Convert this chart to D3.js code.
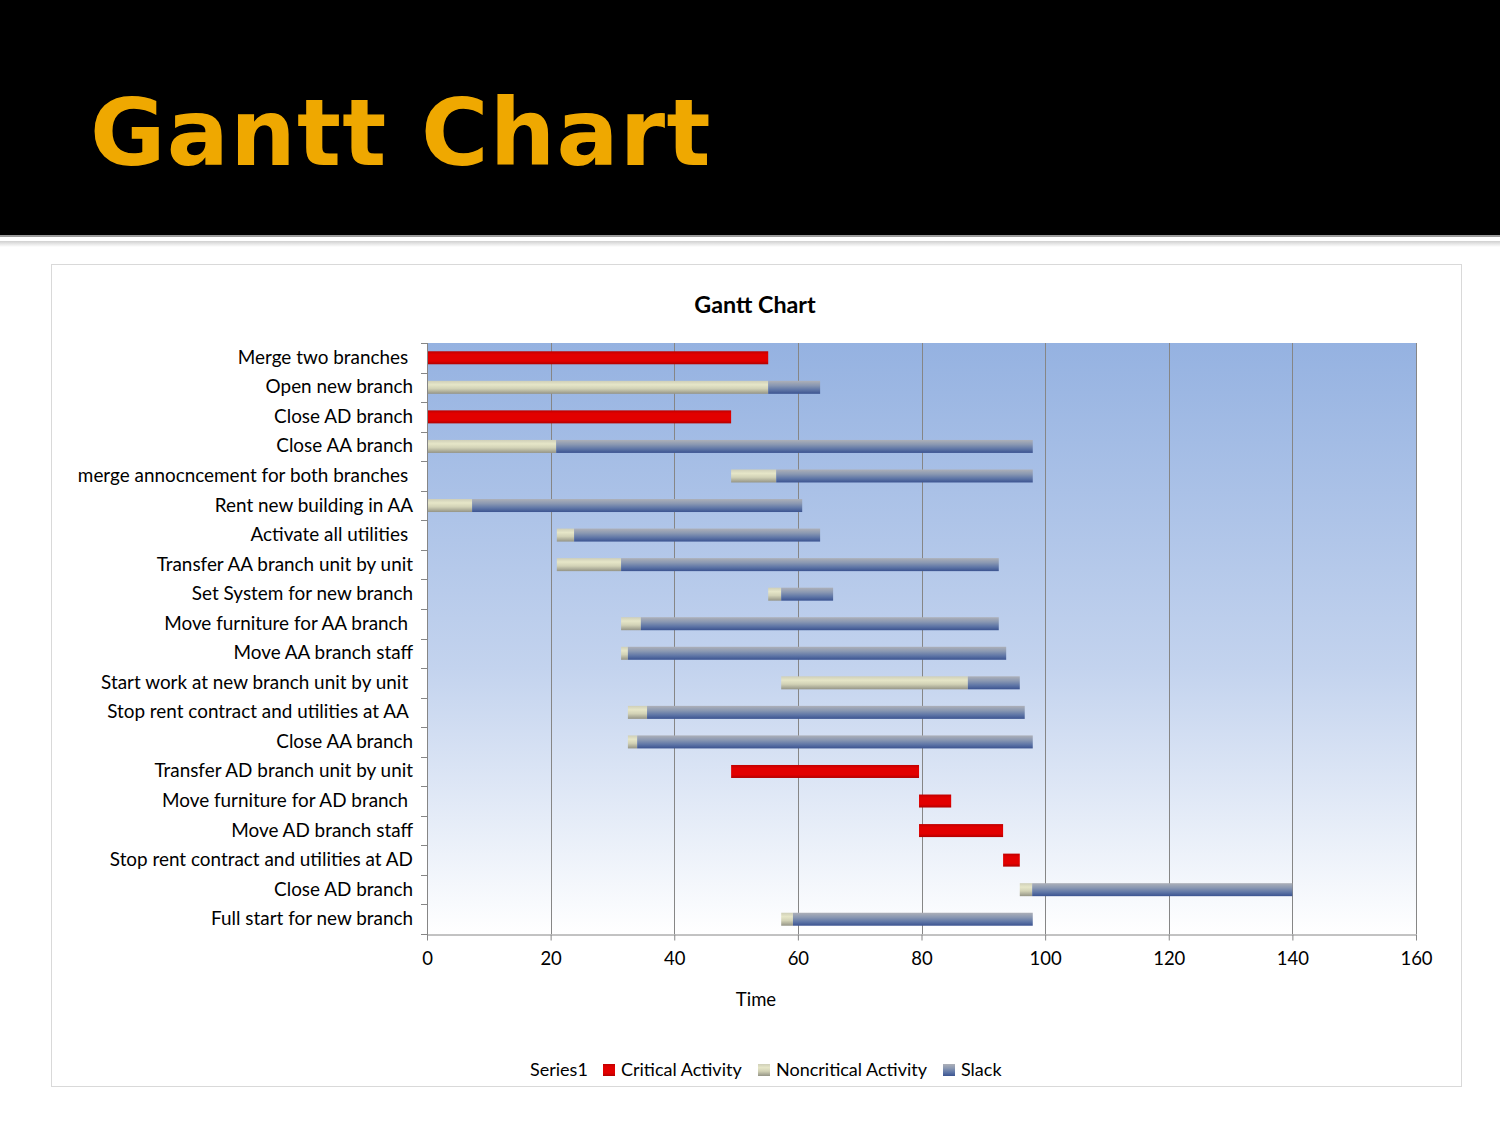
<!DOCTYPE html>
<html>
<head>
    <meta charset="utf-8">
    <title>Gantt Chart</title>
    <script src="https://cdn.jsdelivr.net/npm/d3@7"></script>
    <style type="text/css">
        body { margin: 0; background: #fff; }
        svg text { font-family: Lato, "Open Sans", sans-serif; fill: #000; }
    </style>
</head>
<body>
<div id="chart"></div>
<script type="text/javascript">
    // categories, top to bottom (trailing spaces kept as in the source sheet)
    var tasks = [
        "Merge two branches ", "Open new branch", "Close AD branch", "Close AA branch",
        "merge annocncement for both branches ", "Rent new building in AA", "Activate all utilities ",
        "Transfer AA branch unit by unit", "Set System for new branch", "Move furniture for AA branch ",
        "Move AA branch staff", "Start work at new branch unit by unit ", "Stop rent contract and utilities at AA ",
        "Close AA branch", "Transfer AD branch unit by unit", "Move furniture for AD branch ",
        "Move AD branch staff", "Stop rent contract and utilities at AD", "Close AD branch",
        "Full start for new branch"
    ];
    // Series1 = start offset (invisible)
    var series1     = [0, 0, 0, 0, 49.2, 0, 21, 21, 55.2, 31.4, 31.4, 57.3, 32.5, 32.5, 49.2, 79.6, 79.6, 93.2, 95.9, 57.3];
    var critical    = [55.2, 0, 49.2, 0, 0, 0, 0, 0, 0, 0, 0, 0, 0, 0, 30.4, 5.2, 13.6, 2.7, 0, 0];
    var noncritical = [0, 55.2, 0, 20.9, 7.3, 7.3, 2.8, 10.4, 2.1, 3.2, 1.1, 30.2, 3.1, 1.5, 0, 0, 0, 0, 2, 1.9];
    var slack       = [0, 8.4, 0, 77.1, 41.5, 53.4, 39.8, 61.1, 8.4, 57.9, 61.2, 8.4, 61.1, 64, 0, 0, 0, 0, 42.1, 38.8];
    var xTicks = [0, 20, 40, 60, 80, 100, 120, 140, 160];
    var seriesNames = ["Series1", "Critical Activity", "Noncritical Activity", "Slack"];

    var W = 1500, H = 1125;
    var svg = d3.select('#chart').append('svg')
        .attr('width', W).attr('height', H);

    var defs = svg.append('defs');
    function vGrad(id, stops) {
        var g = defs.append('linearGradient').attr('id', id)
            .attr('x1', 0).attr('y1', 0).attr('x2', 0).attr('y2', 1);
        stops.forEach(function (s) {
            g.append('stop').attr('offset', s[0]).attr('stop-color', s[1]);
        });
    }
    vGrad('gPlot', [[0, '#95b2e1'], [0.55, '#c3d3ee'], [1, '#ffffff']]);
    vGrad('gCrit', [[0, '#c00000'], [0.25, '#e20000'], [0.75, '#e20000'], [1, '#b00000']]);
    vGrad('gNon', [[0, '#cfcfb8'], [0.3, '#e6e6c8'], [0.6, '#d2d2b6'], [1, '#949486']]);
    vGrad('gSlack', [[0, '#adb0b8'], [0.35, '#8a98b2'], [0.7, '#5e75a6'], [1, '#3b5390']]);
    vGrad('gShadow', [[0, '#d0d0d0'], [1, '#ffffff']]);

    // slide header
    svg.append('rect').attr('x', 0).attr('y', 0).attr('width', W).attr('height', 235).attr('fill', '#000');
    svg.append('rect').attr('x', 0).attr('y', 235).attr('width', W).attr('height', 2).attr('fill', '#9a9a9a');
    svg.append('rect').attr('x', 0).attr('y', 241).attr('width', W).attr('height', 6).attr('fill', 'url(#gShadow)');
    svg.append('text')
        .attr('x', 90).attr('y', 165)
        .style('font-family', '"DejaVu Sans", Verdana, sans-serif')
        .style('font-weight', 'bold').style('font-size', '92px')
        .style('letter-spacing', '1.3px')
        .style('fill', '#efa800')
        .text('Gantt Chart');

    // chart frame
    svg.append('rect').attr('x', 51.5).attr('y', 264.5).attr('width', 1410).attr('height', 822)
        .attr('fill', '#fff').attr('stroke', '#d9d9d9');

    svg.append('text').attr('x', 755).attr('y', 313).attr('text-anchor', 'middle')
        .style('font-size', '23.3px').style('font-weight', 'bold').text('Gantt Chart');

    var m = {left: 427, right: 1416, top: 343, bottom: 934};
    var x = d3.scaleLinear().domain([0, 160]).range([m.left, m.right]);
    var y = d3.scaleBand().domain(d3.range(tasks.length)).range([m.top, m.bottom]);

    svg.append('rect').attr('x', m.left).attr('y', m.top)
        .attr('width', m.right - m.left).attr('height', m.bottom - m.top)
        .attr('fill', 'url(#gPlot)');

    // vertical gridlines
    svg.append('g').selectAll('line').data(xTicks.slice(1)).enter().append('line')
        .attr('x1', function (d) { return Math.round(x(d)) + 0.5; })
        .attr('x2', function (d) { return Math.round(x(d)) + 0.5; })
        .attr('y1', m.top).attr('y2', m.bottom)
        .attr('stroke', '#868686').attr('stroke-width', 1);

    // stacked bars
    var layers = [
        {vals: critical, fill: 'url(#gCrit)'},
        {vals: noncritical, fill: 'url(#gNon)'},
        {vals: slack, fill: 'url(#gSlack)'}
    ];
    var barH = 13;
    var bars = svg.append('g');
    tasks.forEach(function (t, i) {
        var start = series1[i];
        layers.forEach(function (L) {
            var v = L.vals[i];
            if (v > 0) {
                bars.append('rect')
                    .attr('x', x(start)).attr('width', x(start + v) - x(start))
                    .attr('y', y(i) + (y.bandwidth() - barH) / 2).attr('height', barH)
                    .attr('fill', L.fill);
                start += v;
            }
        });
    });

    // axes
    var xAxis = d3.axisBottom(x).tickValues(xTicks).tickSize(6).tickSizeOuter(0);
    var gx = svg.append('g').attr('transform', 'translate(0,' + (m.bottom + 0.5) + ')').call(xAxis);
    gx.select('.domain').attr('stroke', '#868686');
    gx.selectAll('.tick line').attr('stroke', '#868686');
    gx.selectAll('.tick text').attr('dy', 0).attr('y', 30)
        .style('font-family', 'Lato, sans-serif').style('font-size', '18.5px').attr('fill', '#000');

    var yEdges = d3.range(tasks.length + 1).map(function (i) { return m.top + i * y.step(); });
    var gy = svg.append('g');
    gy.append('line').attr('x1', m.left + 0.5).attr('x2', m.left + 0.5)
        .attr('y1', m.top).attr('y2', m.bottom + 6).attr('stroke', '#868686');
    gy.selectAll('line.tk').data(yEdges).enter().append('line').attr('class', 'tk')
        .attr('x1', m.left - 6).attr('x2', m.left)
        .attr('y1', function (d) { return Math.round(d) + 0.5; })
        .attr('y2', function (d) { return Math.round(d) + 0.5; })
        .attr('stroke', '#868686');
    gy.selectAll('text').data(tasks).enter().append('text')
        .attr('x', 413).attr('y', function (d, i) { return y(i) + y.bandwidth() / 2 + 6; })
        .attr('text-anchor', 'end').attr('xml:space', 'preserve')
        .style('white-space', 'pre')
        .style('font-size', '18.9px').text(function (d) { return d; });

    svg.append('text').attr('x', 756).attr('y', 1006).attr('text-anchor', 'middle')
        .style('font-size', '18.5px').text('Time');

    // legend
    var legend = svg.append('g');
    var legX = [530, 603, 758, 943];
    var legFill = [null, 'url(#gCrit)', 'url(#gNon)', 'url(#gSlack)'];
    seriesNames.forEach(function (n, i) {
        var tx = legX[i];
        if (legFill[i]) {
            legend.append('rect').attr('x', legX[i]).attr('y', 1064).attr('width', 12).attr('height', 12)
                .attr('fill', legFill[i]);
            tx += 18;
        }
        legend.append('text').attr('x', tx).attr('y', 1076).style('font-size', '18px').text(n);
    });
</script>
</body>
</html>
